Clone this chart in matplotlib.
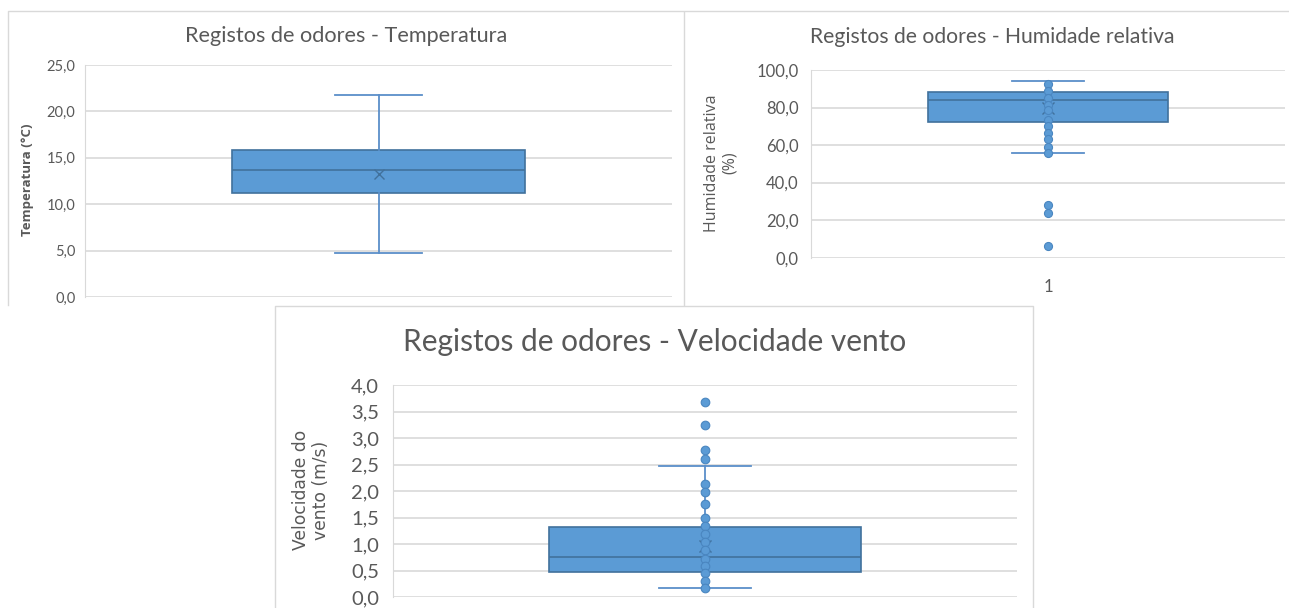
import matplotlib
matplotlib.use("Agg")
import matplotlib.pyplot as plt
from matplotlib.lines import Line2D
from matplotlib.ticker import FuncFormatter, MultipleLocator
import numpy as np

# Temperatura (°C)
temp_stats = {"q1": 11.2, "med": 13.7, "q3": 15.8, "whislo": 4.7, "whishi": 21.8, "mean": 13.3}
temp_pontos = []

# Humidade relativa (%)
hum_stats = {"q1": 72.5, "med": 84.0, "q3": 88.1, "whislo": 55.6, "whishi": 94.1, "mean": 79.6}
hum_pontos = [92.4, 88.8, 85.0, 81.3, 78.7, 73.4, 69.9, 66.7, 63.1, 59.1, 55.6, 28.0, 23.7, 6.2]

# Velocidade do vento (m/s)
vel_stats = {"q1": 0.48, "med": 0.75, "q3": 1.33, "whislo": 0.175, "whishi": 2.47, "mean": 0.97}
vel_pontos = [3.68, 3.24, 2.78, 2.61, 2.14, 1.98, 1.76, 1.50, 1.35, 1.19, 1.04, 0.89,
              0.73, 0.59, 0.46, 0.31, 0.175]

W, H = 1289, 608
AZUL = "#5B9BD5"
AZUL_ESC = "#41719C"
CINZA = "#D9D9D9"
TEXTO = "#595959"

fig = plt.figure(figsize=(W / 100, H / 100), dpi=100)
fig.patch.set_facecolor("white")


def eixo(x0, x1, y0, y1):
    # pixeis -> fraccao da figura
    return fig.add_axes([x0 / W, 1 - y1 / H, (x1 - x0) / W, (y1 - y0) / H])


def linha(xs, ys):
    fig.add_artist(Line2D([x / W for x in xs], [1 - y / H for y in ys],
                          color=CINZA, lw=1.0, transform=fig.transFigure))


def virgula(v, pos):
    return f"{v:.1f}".replace(".", ",")


def caixa(ax, stats, pontos, ymax, passo, largura, caps, tam_tick, pad, msize):
    s = dict(stats)
    s["fliers"] = []
    ax.bxp([s], positions=[1], widths=largura, capwidths=caps, showmeans=True,
           patch_artist=True, showfliers=False,
           boxprops=dict(facecolor=AZUL, edgecolor=AZUL_ESC, lw=1.2),
           medianprops=dict(color=AZUL_ESC, lw=1.2),
           whiskerprops=dict(color="#5B8FC9", lw=1.3),
           capprops=dict(color="#5B8FC9", lw=1.3),
           meanprops=dict(marker="x", markeredgecolor=AZUL_ESC, markersize=msize * 1.4,
                          markeredgewidth=1.0))
    if pontos:
        ax.plot(np.ones(len(pontos)), pontos, "o", color=AZUL, markeredgecolor="#4A86C0",
                markersize=msize, markeredgewidth=0.8, zorder=4)
    ax.set_xlim(0.5, 1.5)
    ax.set_ylim(0, ymax)
    ax.yaxis.set_major_locator(MultipleLocator(passo))
    ax.yaxis.set_major_formatter(FuncFormatter(virgula))
    ax.grid(axis="y", color=CINZA, lw=1.2)
    ax.set_axisbelow(True)
    for lado in ["top", "right", "bottom"]:
        ax.spines[lado].set_visible(False)
    ax.spines["left"].set_color(CINZA)
    ax.tick_params(axis="y", length=0, labelsize=tam_tick, labelcolor=TEXTO, pad=pad)
    ax.tick_params(axis="x", length=0)
    ax.set_facecolor("none")
    for t in ax.get_yticklabels():
        t.set_fontfamily("Lato")


# bordas dos paineis
linha([8, 8, 683], [305, 11, 11])
linha([684, 684, 1289], [305, 11, 11])
linha([275, 275, 1033, 1033], [608, 306, 306, 608])

# Temperatura
ax1 = eixo(85, 672, 65, 297)
caixa(ax1, temp_stats, temp_pontos, 25, 5, 0.5, 0.148, 10.5, 7, 5.5)
ax1.set_xticks([])
fig.text(346 / W, 1 - 36 / H, "Registos de odores - Temperatura", ha="center", va="center",
         fontsize=15.6, color=TEXTO, family="Lato")
fig.text(28 / W, 1 - 180 / H, "Temperatura (°C)", rotation=90, ha="center", va="center",
         fontsize=9.5, fontweight="bold", color=TEXTO, family="Open Sans")

# Humidade relativa
ax2 = eixo(811, 1285, 70, 257.7)
caixa(ax2, hum_stats, hum_pontos, 100, 20, 0.505, 0.15, 12, 9, 5.8)
ax2.set_xticks([1])
ax2.set_xticklabels(["1"], fontsize=12, color=TEXTO, family="Lato")
ax2.tick_params(axis="x", pad=15)
fig.text(992 / W, 1 - 37 / H, "Registos de odores - Humidade relativa", ha="center", va="center",
         fontsize=15.2, color=TEXTO, family="Lato")
fig.text(721 / W, 1 - 163 / H, "Humidade relativa\n(%)", rotation=90, ha="center", va="center",
         fontsize=11.5, color=TEXTO, family="Open Sans", linespacing=1.2)

# Velocidade do vento
ax3 = eixo(393, 1017, 385, 597.3)
caixa(ax3, vel_stats, vel_pontos, 4, 0.5, 0.5, 0.149, 14.5, 10, 6.2)
ax3.set_xticks([])
fig.text(655 / W, 1 - 342 / H, "Registos de odores - Velocidade vento", ha="center", va="center",
         fontsize=21.5, color=TEXTO, family="Lato")
fig.text(311 / W, 1 - 490 / H, "Velocidade do\nvento (m/s)", rotation=90, ha="center", va="center",
         fontsize=12.3, color=TEXTO, family="DejaVu Sans", linespacing=1.15)

fig.savefig("out.png", dpi=100, facecolor="white")
